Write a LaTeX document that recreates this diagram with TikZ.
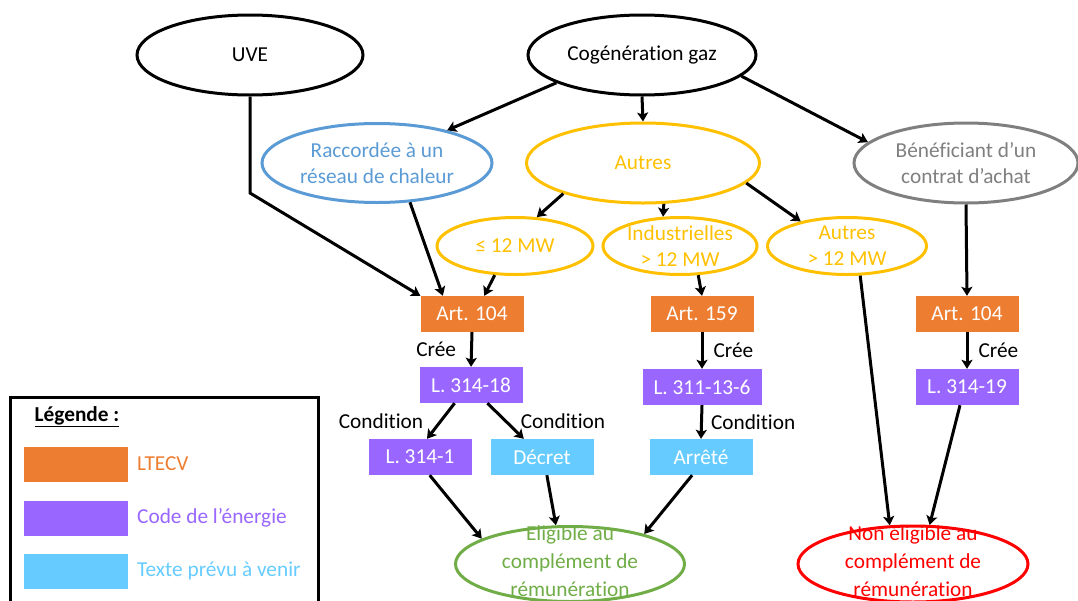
\documentclass[tikz,border=0pt]{standalone}
\usepackage{fontspec}
\setmainfont{Carlito}[Ligatures={NoCommon}]
\usetikzlibrary{arrows.meta,shapes.geometric}
\definecolor{cOrange}{HTML}{ED7D31}
\definecolor{cPurple}{HTML}{9966FF}
\definecolor{cCyan}{HTML}{66CCFF}
\definecolor{cGold}{HTML}{FFC000}
\definecolor{cBlue}{HTML}{5B9BD5}
\definecolor{cGray}{HTML}{7F7F7F}
\definecolor{cGreen}{HTML}{70AD47}
\definecolor{cRed}{HTML}{FF0000}
\newcommand\dfont{\fontsize{21.3}{26}\selectfont}
\tikzset{
  ell/.style={ellipse, draw, line width=3pt, inner sep=0pt},
  txt/.style={font=\dfont, align=center, inner sep=0pt},
  box/.style={rectangle, minimum width=103pt, minimum height=36pt, inner sep=0pt, text=white, font=\dfont},
  arr/.style={-{Stealth[length=9pt,width=11pt,inset=2pt]}, line width=3pt, black},
  lbl/.style={font=\dfont, inner sep=0pt},
}
\begin{document}
\begin{tikzpicture}[x=1pt,y=-1pt]
\useasboundingbox (0,0) rectangle (1078,600);
% top ellipses
\node[ell, minimum width=226pt, minimum height=80pt] (uve) at (250,55) {};
\node[txt] (uveT) at (uve) {UVE};
\node[ell, minimum width=228pt, minimum height=80pt] (cog) at (642,55) {};
\node[txt] (cogT) at (cog) {Cogénération gaz};
% second row
\node[ell, draw=cBlue, minimum width=230pt, minimum height=79pt] (rac) at (377,163) {};
\node[txt, text=cBlue] (racT) at (rac) {Raccordée à un\\réseau de chaleur};
\node[ell, draw=cGold, minimum width=233pt, minimum height=80pt] (aut) at (643,163) {};
\node[txt, text=cGold] (autT) at (aut) {Autres};
\node[ell, draw=cGray, minimum width=224pt, minimum height=80pt] (ben) at (966,163) {};
\node[txt, text=cGray] (benT) at (ben) {Bénéficiant d’un\\contrat d’achat};
% third row
\node[ell, draw=cGold, minimum width=156pt, minimum height=57pt] (le) at (515,246) {};
\node[txt, text=cGold] (leT) at (le) {≤ 12 MW};
\node[ell, draw=cGold, minimum width=154pt, minimum height=57pt] (ind) at (680,246) {};
\node[txt, text=cGold] (indT) at (ind) {Industrielles\\> 12 MW};
\node[ell, draw=cGold, minimum width=159pt, minimum height=57pt] (aut2) at (847,246) {};
\node[txt, text=cGold] (aut2T) at (aut2) {Autres\\> 12 MW};
% boxes
\node[box, fill=cOrange] (art1) at (472,314) {Art. 104};
\node[box, fill=cPurple] (l31418) at (471,385) {L. 314-18};
\node[box, fill=cPurple] (l3141) at (420,457) {L. 314-1};
\node[box, fill=cCyan] (dec) at (542,457) {Décret};
\node[box, fill=cOrange] (art2) at (702,314) {Art. 159};
\node[box, fill=cPurple, minimum width=119pt] (l311) at (702,387) {L. 311-13-6};
\node[box, fill=cCyan] (arre) at (701,457) {Arrêté};
\node[box, fill=cOrange] (art3) at (967,314) {Art. 104};
\node[box, fill=cPurple] (l31419) at (967,387) {L. 314-19};
% bottom ellipses
\node[ell, draw=cGreen, minimum width=229pt, minimum height=75pt] (elig) at (570,564) {};
\node[txt, text=cGreen, font=\fontsize{21.3}{28}\selectfont] (eligT) at (570,561) {Eligible au\\complément de\\rémunération};
\node[ell, draw=cRed, minimum width=230pt, minimum height=76pt] (nonel) at (913,564) {};
\node[txt, text=cRed, font=\fontsize{21.3}{28}\selectfont] (nonelT) at (913,561) {Non éligible au\\complément de\\rémunération};
% connectors
\coordinate (uveb) at (250,193);
\draw[arr] (uve.south) -- (uveb) -- (art1.north west);
\draw[arr] (cog.198) -- (rac.25);
\draw[arr] (cog.south) -- (aut.north);
\draw[arr] (cog.348) -- (ben.168);
\draw[arr] (rac.310) -- (art1.148);
\draw[arr] (aut.201) -- (le.53);
\draw[arr] (aut.297) -- (ind.120);
\draw[arr] (aut.349) -- (aut2.152);
\draw[arr] (le.235) -- (art1.56);
\draw[arr] (ind.302) -- (art2.north);
\draw[arr] (aut2.294) -- (nonel.121);
\draw[arr] (ben.south) -- (art3.north);
\draw[arr] (art1.south) -- node[lbl, left=14pt] (c1) {Crée} (l31418.north);
\draw[arr] (l31418.228) -- (l3141.69);
\draw[arr] (l31418.312) -- (dec.135);
\draw[arr] (art2.south) -- node[lbl, right=10pt] (c2) {Crée} (l311.north);
\draw[arr] (l311.south) -- node[lbl, right=8pt] (c3) {Condition} (arre.north);
\draw[arr] (art3.south) -- node[lbl, right=10pt] (c4) {Crée} (l31419.north);
\draw[arr] (l31419.249) -- (nonel.67);
\draw[arr] (l3141.298) -- (elig.164);
\draw[arr] (dec.285) -- (elig.110);
\draw[arr] (arre.244) -- (elig.22);
\node[lbl] (cond1) at (381,421) {Condition};
\node[lbl] (cond2) at (563,421) {Condition};
% legend
\draw[line width=3pt] (10,606) -- (10,397) -- (318,397) -- (318,606);
\node[lbl, font=\dfont\bfseries] (legT) at (77,417) {\underline{Légende :}};
\node[rectangle, fill=cOrange, minimum width=104pt, minimum height=35pt, inner sep=0pt] (sw1) at (76,464) {};
\node[rectangle, fill=cPurple, minimum width=104pt, minimum height=35pt, inner sep=0pt] (sw2) at (76,518) {};
\node[rectangle, fill=cCyan, minimum width=104pt, minimum height=35pt, inner sep=0pt] (sw3) at (76,571) {};
\node[lbl, anchor=west, text=cOrange] (lg1) at (137,464) {LTECV};
\node[lbl, anchor=west, text=cPurple] (lg2) at (137,518) {Code de l’énergie};
\node[lbl, anchor=west, text=cCyan] (lg3) at (137,571) {Texte prévu à venir};
\end{tikzpicture}
\end{document}
